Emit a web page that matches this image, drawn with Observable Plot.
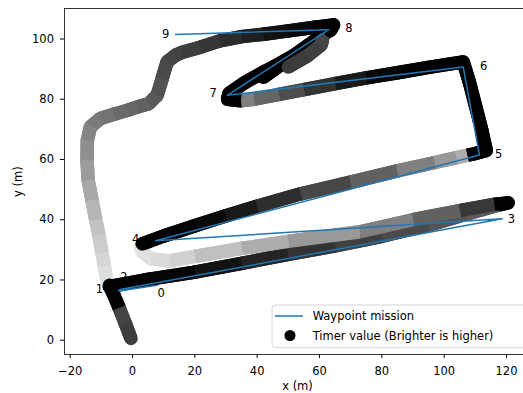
<!DOCTYPE html>
<html><head><meta charset="utf-8">
<script src="https://cdn.jsdelivr.net/npm/d3@7"></script>
<script src="https://cdn.jsdelivr.net/npm/@observablehq/plot@0.6"></script>
<style>
html,body{margin:0;padding:0;background:#fff;overflow:hidden;width:523px;height:393px;}
#chart{width:540px;height:393px;}
</style></head><body><div id="chart"></div>
<script>
// Waypoint mission (blue line)
const wpX = [7.9, -4.5, -4.0, 118.6, 7.4, 111.3, 106.1, 30.4, 63.0, 13.8];
const wpY = [18.2, 16.3, 16.8, 40.3, 33.0, 61.5, 90.7, 81.3, 103.1, 101.5];
// Waypoint label positions and texts
const labelText = ["0","1","2","3","4","5","6","7","8","9"];
const labelX = [9.2, -10.6, -2.8, 121.6, 1.0, 117.5, 112.7, 25.9, 69.4, 10.6];
const labelY = [15.4, 16.8, 20.9, 40.3, 33.4, 61.7, 91.0, 81.9, 103.5, 101.6];

// Flown trajectory: position and timer value; leg = continuous stroke id (draw order)
const pathLeg = [
  0,0,0,0,0,0,0,0,0,0,0,0,0,0,0,0,0,0,0,0,0,0,0,0,0,0,0,
  1,1,1,1,1,
  2,2,2,2,2,2,2,2,2,2,2,
  2,2,2,2,2,2,2,2,2,2,2,
  3,3,3,3,3,3,3,3,3,3,3,3,3,
  3,3,3,3,
  3,3,3,3,3,3,3,3,
  3,3,3,3,3,3,3,3,3,
  4,4,4,4,
  5,5,5
];
const pathX = [
  64.5, 58, 50, 42, 35, 28, 21.8, 16, 13.8, 11.1, 9.5, 7.9, 5.2, 1.5, -1.7, -6, -10.3, -13.5, -14.5, -14.6, -14.2, -13, -11.8, -10.8, -9.8, -9, -8.3,
  -0.5, -2.4, -4.3, -6, -7.4,
  -7.5, 5, 20, 35, 50, 65, 80, 95, 107, 117.5, 120.5,
  116, 105, 90, 73, 50, 35, 20, 12, 6, 3, 2.6,
  3.1, 10, 20, 30, 40, 54, 70, 85, 97, 104, 107.5, 110, 113.5,
  112, 110, 108, 106.1,
  95, 85, 75, 65, 55, 47, 39, 34.8,
  30.5, 31, 36, 42, 48, 54, 59, 63,
  42, 50, 56, 60.5,
  61, 63.5, 64.5
];
const pathY = [
  104.7, 103.8, 102.7, 101.6, 100.8, 99.4, 97.3, 95.6, 94.6, 92.4, 86.8, 81.3, 78.5, 77.4, 76.3, 75, 73.6, 70.8, 66.3, 59.7, 53, 46.5, 40, 35, 29, 24.5, 20.3,
  0.6, 5.8, 10.8, 15, 18.2,
  17.8, 20.2, 22.6, 25.5, 28.5, 31.3, 34.5, 38.2, 41.8, 44.9, 45.6,
  45.1, 43, 40, 36, 32.8, 30.5, 27.8, 26.3, 27, 29.5, 31,
  32, 34.6, 38, 41.3, 44.5, 48.6, 52.5, 56.2, 59, 60.6, 61.4, 62, 63,
  70, 78, 86, 92.4,
  90.6, 88.8, 87.1, 85.2, 83.2, 81.6, 80, 79.5,
  80, 82, 85.5, 89, 92.3, 95.8, 99.5, 102.8,
  87.3, 90.7, 94.3, 98,
  99.8, 102.8, 104.7
];
const pathTimer = [
  0, 3, 7, 12, 17, 21, 24, 26, 27, 29, 32, 35, 38, 40, 42, 45, 48, 52, 56, 61, 66, 71, 76, 80, 84, 87, 89,
  24, 27, 1, 0, 0,
  0, 2, 7, 14, 20, 25, 29, 33, 36, 0, 0,
  22, 38, 50, 60, 68, 75, 82, 86, 88, 89, 90,
  0, 1, 4, 10, 18, 28, 38, 50, 60, 68, 0, 0, 0,
  0, 0, 0, 0,
  0, 3, 10, 20, 30, 40, 50, 0,
  0, 0, 0, 0, 0, 0, 0, 0,
  20, 23, 25, 27,
  0, 0, 0
];
const xTicks = [-20, 0, 20, 40, 60, 80, 100, 120];
const yTicks = [0, 20, 40, 60, 80, 100];

// Build segment table from consecutive points of the same leg
const segs = [];
for (let i = 0; i < pathX.length - 1; i++) {
  if (pathLeg[i] === pathLeg[i + 1]) {
    segs.push({leg: pathLeg[i], x1: pathX[i], y1: pathY[i], x2: pathX[i + 1], y2: pathY[i + 1], t: pathTimer[i]});
  }
}
const wps = wpX.map((x, i) => ({x, y: wpY[i]}));
const labels = labelText.map((s, i) => ({x: labelX[i], y: labelY[i], s}));

// Per leg: round-capped pass (fills joints), then butt-capped pass (hides cap beads)
const trajMarks = [];
for (const leg of Array.from(new Set(pathLeg))) {
  const d = segs.filter(s => s.leg === leg);
  trajMarks.push(Plot.link(d, {x1: "x1", y1: "y1", x2: "x2", y2: "y2", stroke: "t", strokeWidth: 13.5, strokeLinecap: "round"}));
  trajMarks.push(Plot.link(d, {x1: "x1", y1: "y1", x2: "x2", y2: "y2", stroke: "t", strokeWidth: 13.5, strokeLinecap: "butt"}));
}

const svg = Plot.plot({
  width: 540, height: 393,
  marginLeft: 64, marginRight: 12, marginTop: 8, marginBottom: 39,
  style: {fontFamily: "'DejaVu Sans'", fontSize: "11.5px", color: "black", background: "white"},
  x: {domain: [-21.82, 127.05], ticks: xTicks, tickSize: 4, tickPadding: 8, label: null},
  y: {domain: [-4.75, 110.13], ticks: yTicks, tickSize: 4, tickPadding: 6.5, label: null},
  color: {type: "linear", domain: [0, 100], range: ["black", "white"], interpolate: "rgb"},
  marks: [
    ...trajMarks,
    Plot.line(wps, {x: "x", y: "y", stroke: "#1f77b4", strokeWidth: 1.5}),
    Plot.text(labels, {x: "x", y: "y", text: "s", fill: "black", fontSize: 11.5, textAnchor: "middle", lineAnchor: "middle"}),
    Plot.frame({stroke: "black", strokeWidth: 0.8})
  ]
});

const s = d3.select(svg);
s.append("text").attr("x", 297.5).attr("y", 386.3).attr("text-anchor", "middle")
  .attr("dy", "0.35em").attr("fill", "black").style("font-size", "11.5px").text("x (m)");
s.append("text").attr("transform", "translate(18.3,181.7) rotate(-90)").attr("text-anchor", "middle")
  .attr("dy", "0.35em").attr("fill", "black").style("font-size", "11.5px").text("y (m)");

const lg = s.append("g").attr("text-anchor", "start");
lg.append("rect").attr("x", 272).attr("y", 305).attr("width", 300).attr("height", 42.7).attr("rx", 3)
  .attr("fill", "white").attr("fill-opacity", 0.8).attr("stroke", "#cccccc").attr("stroke-width", 0.8);
lg.append("line").attr("x1", 275).attr("x2", 303).attr("y1", 316).attr("y2", 316)
  .attr("stroke", "#1f77b4").attr("stroke-width", 1.5);
lg.append("text").attr("x", 312.7).attr("y", 316).attr("dy", "0.35em").attr("fill", "black")
  .attr("text-anchor", "start").style("font-size", "11.5px").text("Waypoint mission");
lg.append("circle").attr("cx", 290).attr("cy", 335.5).attr("r", 5.5).attr("fill", "black");
lg.append("text").attr("x", 312.7).attr("y", 335.5).attr("dy", "0.35em").attr("fill", "black")
  .attr("text-anchor", "start").style("font-size", "11.5px").text("Timer value (Brighter is higher)");

document.getElementById("chart").appendChild(svg);
</script></body></html>
